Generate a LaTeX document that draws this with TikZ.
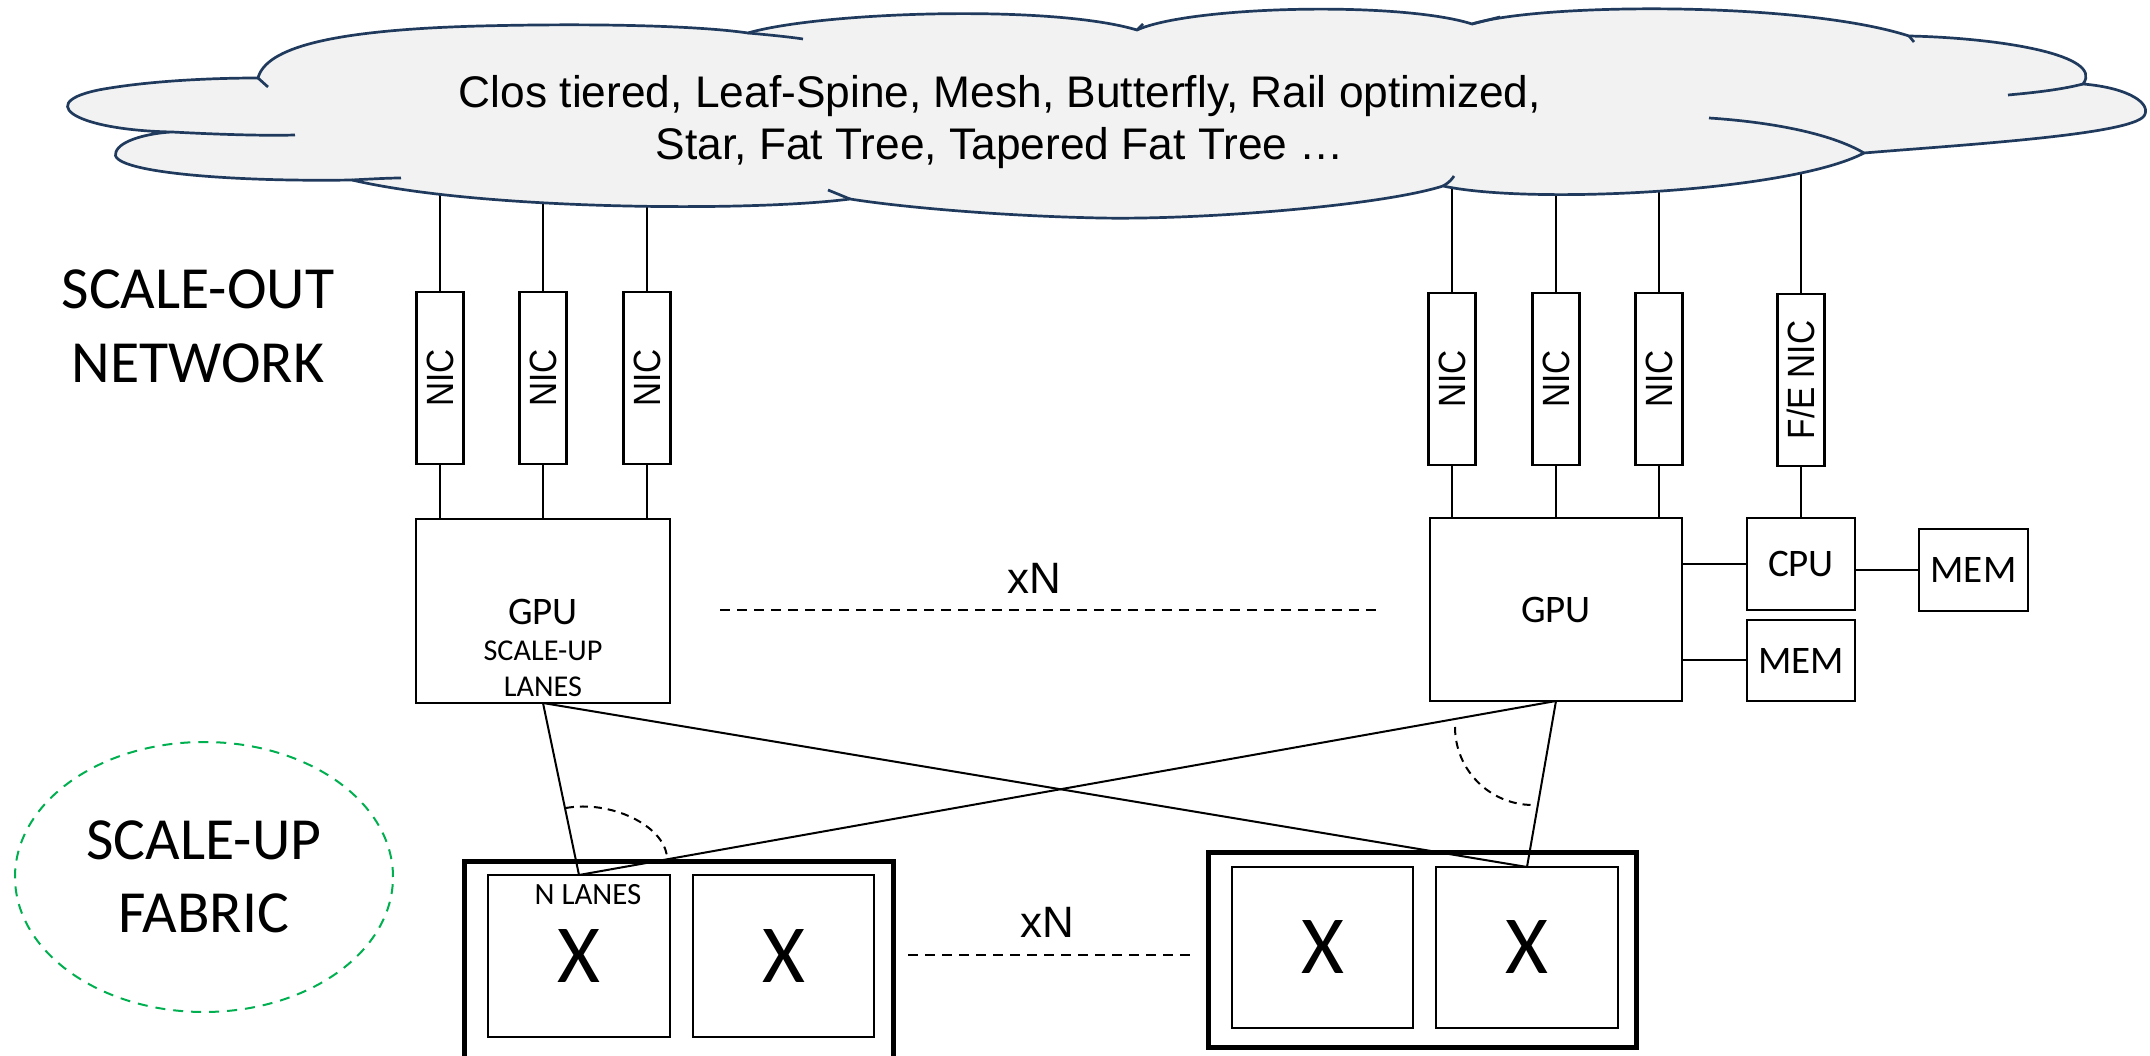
\documentclass[tikz,border=0pt]{standalone}
\usepackage{fontspec}
\usepackage{graphicx}
\setmainfont{Liberation Sans}
\newfontfamily\calibri{Carlito}
\usetikzlibrary{calc,shapes.geometric}
\definecolor{cloudfill}{HTML}{F2F2F2}
\definecolor{cloudline}{HTML}{1F3A5C}
\definecolor{fabgreen}{HTML}{00B050}
\newcommand{\nictxt}[1]{\rotatebox{90}{\scalebox{0.88}[1]{#1}}}
\begin{document}
\begin{tikzpicture}[x=0.1mm,y=0.1mm,
  box/.style={draw=black,line width=0.22mm,fill=white,inner sep=0pt,outer sep=0pt},
  nicbox/.style={box,minimum width=4.7mm,minimum height=17.2mm,font=\fontsize{10.8pt}{12pt}\selectfont},
  chip/.style={box,font=\calibri\fontsize{11.1pt}{13pt}\selectfont},
  swouter/.style={draw=black,line width=0.5mm,fill=white,inner sep=0pt,outer sep=0pt},
  swinner/.style={box,font=\calibri\fontsize{23.5pt}{26pt}\selectfont},
  wire/.style={draw=black,line width=0.2mm},
  dashwire/.style={draw=black,line width=0.2mm,dash pattern=on 1mm off 0.7mm},
  arcdash/.style={draw=black,line width=0.2mm,dash pattern=on 0.8mm off 0.6mm},
  cloudstroke/.style={draw=cloudline,line width=0.27mm},
  biglbl/.style={font=\calibri\fontsize{17pt}{21pt}\selectfont,align=center,inner sep=0pt},
  cloudtxt/.style={font=\fontsize{12.6pt}{15pt}\selectfont,inner sep=0pt,anchor=base},
  xnlbl/.style={font=\fontsize{12.5pt}{15pt}\selectfont,inner sep=0pt,anchor=base},
  gpubig/.style={font=\calibri\fontsize{11.1pt}{13pt}\selectfont,inner sep=0pt,anchor=base},
  gpusmall/.style={font=\calibri\fontsize{8.6pt}{10pt}\selectfont,inner sep=0pt,anchor=base}
]
\useasboundingbox (0,0) rectangle (2150,-1056);
\fill[white] (0,0) rectangle (2150,-1056);

% ---------- side labels ----------
\node[biglbl] (scaleout) at (198,-326) {SCALE-OUT\\NETWORK};
\node[draw=fabgreen,line width=0.2mm,dash pattern=on 1mm off 0.8mm,ellipse,
      minimum width=37.8mm,minimum height=27mm,inner sep=0pt,
      font=\calibri\fontsize{17pt}{20.8pt}\selectfont,align=center] (fabric) at (204,-877) {SCALE-UP\\FABRIC};

% ---------- NICs ----------
\node[nicbox] (nicL1) at (440,-378) {\nictxt{NIC}};
\node[nicbox] (nicL2) at (543,-378) {\nictxt{NIC}};
\node[nicbox] (nicL3) at (647,-378) {\nictxt{NIC}};
\node[nicbox] (nicR1) at (1452,-379) {\nictxt{NIC}};
\node[nicbox] (nicR2) at (1556,-379) {\nictxt{NIC}};
\node[nicbox] (nicR3) at (1659,-379) {\nictxt{NIC}};
\node[nicbox] (fenic) at (1801,-380) {\nictxt{F/E NIC}};

% ---------- GPUs, CPU, MEM ----------
\node[box,minimum width=25.4mm,minimum height=18.4mm] (gpuL) at (543,-611) {};
\node[gpubig] (gpuLt) at (543,-625) {GPU};
\node[gpusmall] (gpuLs) at (543,-661) {SCALE-UP};
\node[gpusmall] (gpuLl) at (543,-697) {LANES};
\node[chip,minimum width=25.2mm,minimum height=18.3mm] (gpuR) at (1556,-609.5) {GPU};
\node[chip,minimum width=10.8mm,minimum height=9.2mm] (cpu) at (1801,-564) {CPU};
\node[chip,minimum width=10.8mm,minimum height=8.1mm] (memL) at (1801,-660.5) {MEM};
\node[chip,minimum width=10.9mm,minimum height=8.2mm] (memR) at (1973.5,-570) {MEM};

% ---------- NIC wires ----------
\foreach \n in {nicL1,nicL2,nicL3}{
  \draw[wire] (\n.south) -- (\n.south |- gpuL.north);
}
\foreach \n in {nicR1,nicR2,nicR3}{
  \draw[wire] (\n.south) -- (\n.south |- gpuR.north);
}
\draw[wire] (fenic.south) -- (cpu.north);
\draw[wire] (cpu.west) -- (cpu.west -| gpuR.east);
\draw[wire] (memR.west) -- (memR.west -| cpu.east);
\draw[wire] (memL.west) -- (memL.west -| gpuR.east);

\foreach \n in {nicL1,nicL2,nicL3,nicR1,nicR2,nicR3,fenic}{
  \coordinate (c\n) at (\n.north |- 0,-150);
  \draw[wire] (\n.north) -- (c\n);
}

% ---------- cloud ----------
\path[fill=cloudfill,cloudstroke]
  (258,-78)
  .. controls (266,-48) and (330,-30) .. (480,-26)
  .. controls (600,-23) and (700,-26) .. (748,-33)
  .. controls (820,-12) and (1050,-4) .. (1137,-30)
  .. controls (1190,-6) and (1400,-1) .. (1472,-24)
  .. controls (1540,-3) and (1800,-1) .. (1909,-36)
  .. controls (2000,-38) and (2105,-55) .. (2083,-84)
  .. controls (2130,-88) and (2152,-104) .. (2144,-116)
  .. controls (2130,-135) and (1960,-145) .. (1864,-153)
  .. controls (1790,-192) and (1530,-205) .. (1443,-186)
  .. controls (1380,-206) and (1200,-220) .. (1100,-218)
  .. controls (1000,-216) and (900,-207) .. (850,-199)
  .. controls (750,-212) and (480,-210) .. (352,-180)
  .. controls (230,-182) and (105,-172) .. (116,-152)
  .. controls (120,-140) and (150,-133) .. (172,-132)
  .. controls (70,-130) and (30,-100) .. (110,-88)
  .. controls (160,-80) and (220,-78) .. (258,-78)
  -- cycle;
\draw[cloudstroke] (172,-132) .. controls (210,-134) and (260,-136) .. (295,-135);
\draw[cloudstroke] (258,-78) -- (268,-87);
\draw[cloudstroke] (352,-180) .. controls (370,-179) and (390,-178) .. (401,-178);
\draw[cloudstroke] (850,-199) -- (828,-190);
\draw[cloudstroke] (748,-33) .. controls (770,-35) and (790,-37) .. (803,-39);
\draw[cloudstroke] (1137,-30) -- (1143,-24);
\draw[cloudstroke] (1472,-24) -- (1500,-17);
\draw[cloudstroke] (1909,-36) -- (1914,-42);
\draw[cloudstroke] (2083,-84) .. controls (2060,-90) and (2030,-93) .. (2008,-95);
\draw[cloudstroke] (1864,-153) .. controls (1830,-133) and (1770,-122) .. (1709,-118);
\draw[cloudstroke] (1443,-186) .. controls (1450,-182) and (1452,-179) .. (1454,-176);
\node[cloudtxt] (cloudt1) at (1000,-108) {Clos tiered, Leaf-Spine, Mesh, Butterfly, Rail optimized,};
\node[cloudtxt] (cloudt2) at (1000,-160) {Star, Fat Tree, Tapered Fat Tree \dots};

% ---------- xN between GPUs ----------
\coordinate (dTopL) at (720,-610);
\coordinate (dTopR) at (1382,-610);
\draw[dashwire] (dTopL) -- (dTopR);
\node[xnlbl] (xnTop) at (1034,-594) {xN};

% ---------- switches ----------
\node[swouter,minimum width=42.9mm,minimum height=20mm] (swL) at (678.5,-962) {};
\node[swouter,minimum width=42.8mm,minimum height=19.5mm] (swR) at (1422,-950.5) {};
\node[swinner,minimum width=18.2mm,minimum height=16.2mm] (swL1) at (579,-956) {X};
\node[swinner,minimum width=18.1mm,minimum height=16.2mm] (swL2) at (783.5,-956) {X};
\node[swinner,minimum width=18.1mm,minimum height=16.1mm] (swR1) at (1322.5,-947.5) {X};
\node[swinner,minimum width=18.2mm,minimum height=16.1mm] (swR2) at (1527,-947.5) {X};
\node[font=\calibri\fontsize{8.8pt}{10pt}\selectfont,inner sep=0pt,anchor=base] (nlanes) at (588,-905) {N LANES};

\coordinate (dBotL) at (908,-955);
\coordinate (dBotR) at (1195,-955);
\draw[dashwire] (dBotL) -- (dBotR);
\node[xnlbl] (xnBot) at (1047,-938) {xN};

% ---------- scale-up links ----------
\draw[wire] (gpuL.south) -- (swL1.north);
\draw[wire] (gpuL.south) -- (swR2.north);
\draw[wire] (gpuR.south) -- (swR2.north);
\draw[wire] (gpuR.south) -- (swL1.north);

\draw[arcdash] (566,-808) .. controls (610,-800) and (664,-825) .. (667,-857);
\draw[arcdash] (1455,-727) .. controls (1455,-770) and (1490,-805) .. (1533,-805);
\end{tikzpicture}
\end{document}
